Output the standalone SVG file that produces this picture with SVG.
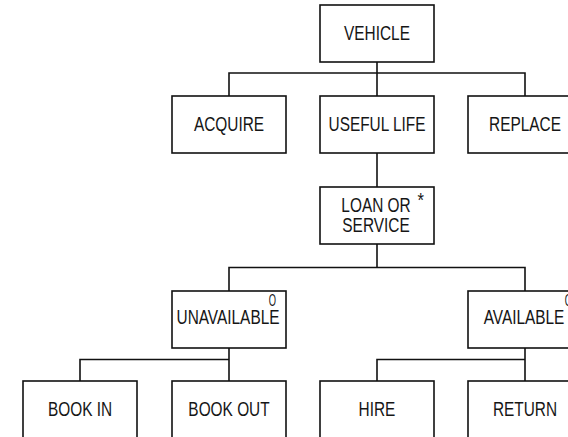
<svg xmlns="http://www.w3.org/2000/svg" width="568" height="437" viewBox="0 0 568 437">
  <style>
    .box { fill: #fff; stroke: #111; stroke-width: 1.6; }
    .lbl { font-family: "Liberation Sans", Arial, sans-serif; font-size: 19.5px; fill: #161616; text-anchor: middle; }
    .mark { font-family: "Liberation Sans", Arial, sans-serif; font-size: 17px; fill: #161616; text-anchor: middle; }
    .wire { fill: none; stroke: #111; stroke-width: 1.6; }
  </style>
  <rect width="568" height="437" fill="#fff"/>

  <!-- connectors -->
  <g id="connectors">
    <path class="wire" d="M377 62V73M229 96V73H525V96M377 73V96"/>
    <path class="wire" d="M377 153V187"/>
    <path class="wire" d="M377 244V267.5M229 291V267.5H525V291"/>
    <path class="wire" d="M229 348V359.5M80 381V359.5H229V381"/>
    <path class="wire" d="M525 348V359.5M377 381V359.5H525V381"/>
  </g>

  <!-- labels use a condensed sans: Liberation Sans squeezed horizontally -->
  <g id="vehicle">
    <rect class="box" x="320" y="5" width="114" height="57"/>
    <text class="lbl" transform="translate(377 40) scale(0.79 1)">VEHICLE</text>
  </g>
  <g id="acquire">
    <rect class="box" x="172" y="96" width="114" height="57"/>
    <text class="lbl" transform="translate(229 131) scale(0.79 1)">ACQUIRE</text>
  </g>
  <g id="useful-life">
    <rect class="box" x="320" y="96" width="114" height="57"/>
    <text class="lbl" transform="translate(377 131) scale(0.79 1)">USEFUL LIFE</text>
  </g>
  <g id="replace">
    <rect class="box" x="468" y="96" width="114" height="57"/>
    <text class="lbl" transform="translate(525 131) scale(0.79 1)">REPLACE</text>
  </g>
  <g id="loan-or-service">
    <rect class="box" x="320" y="187" width="114" height="57"/>
    <text class="lbl" transform="translate(376 212) scale(0.79 1)">LOAN OR</text>
    <text class="lbl" transform="translate(376 232) scale(0.79 1)">SERVICE</text>
    <text class="lbl" transform="translate(420.7 206.5) scale(0.85 1)">*</text>
  </g>
  <g id="unavailable">
    <rect class="box" x="172" y="291" width="114" height="57"/>
    <text class="lbl" transform="translate(228 324) scale(0.79 1)">UNAVAILABLE</text>
    <text class="mark" transform="translate(272.3 305.7) scale(0.55 1)">O</text>
  </g>
  <g id="available">
    <rect class="box" x="468" y="291" width="114" height="57"/>
    <text class="lbl" transform="translate(524 324) scale(0.79 1)">AVAILABLE</text>
    <text class="mark" transform="translate(568.3 305.7) scale(0.55 1)">O</text>
  </g>
  <g id="book-in">
    <rect class="box" x="23" y="381" width="114" height="57"/>
    <text class="lbl" transform="translate(80 416) scale(0.79 1)">BOOK IN</text>
  </g>
  <g id="book-out">
    <rect class="box" x="172" y="381" width="114" height="57"/>
    <text class="lbl" transform="translate(229 416) scale(0.79 1)">BOOK OUT</text>
  </g>
  <g id="hire">
    <rect class="box" x="320" y="381" width="114" height="57"/>
    <text class="lbl" transform="translate(377 416) scale(0.79 1)">HIRE</text>
  </g>
  <g id="return">
    <rect class="box" x="468" y="381" width="114" height="57"/>
    <text class="lbl" transform="translate(525 416) scale(0.79 1)">RETURN</text>
  </g>
</svg>
